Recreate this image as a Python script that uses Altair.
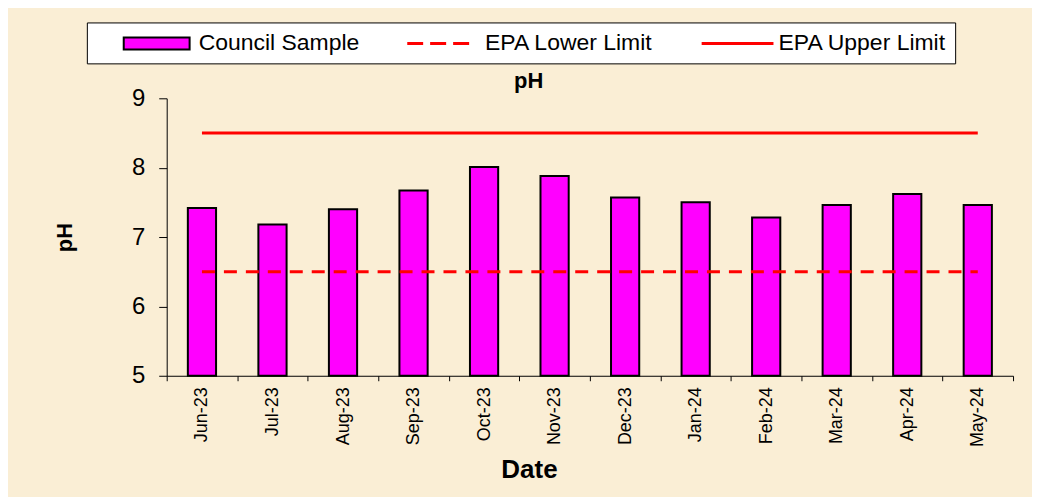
import altair as alt
import pandas as pd

months = ["Jun-23", "Jul-23", "Aug-23", "Sep-23", "Oct-23", "Nov-23",
          "Dec-23", "Jan-24", "Feb-24", "Mar-24", "Apr-24", "May-24"]
ph_values = [7.42, 7.18, 7.40, 7.67, 8.01, 7.88, 7.57, 7.50, 7.28, 7.46, 7.62, 7.46]
lower_limit = [6.5] * 12
upper_limit = [8.5] * 12
series_names = ["Council Sample", "EPA Lower Limit", "EPA Upper Limit"]

FONT = "Liberation Sans"
BG = "#FAEED5"

df = pd.DataFrame({"Date": months, "pH": ph_values,
                   "lower": lower_limit, "upper": upper_limit})
legend_df = pd.DataFrame({"series": series_names})

x_axis = alt.Axis(
    title="Date", labelAngle=-90, labelFontSize=18, labelFont=FONT,
    labelColor="black", labelPadding=6, tickBand="extent", tickSize=5,
    tickColor="black", domainColor="black", titleFont=FONT, titleFontSize=26,
    titleFontWeight="bold", titleColor="black", titleX=363, titleY=102,
    titleAlign="center", titleBaseline="alphabetic", labelLimit=200,
)
x_scale = alt.Scale(paddingInner=0, paddingOuter=0)

y_scale = alt.Scale(domain=[5, 9], nice=False, zero=False)
y_axis = alt.Axis(
    title="pH", values=[5, 6, 7, 8, 9], format="d", grid=False, labelFontSize=24,
    labelFont=FONT, labelColor="black", labelPadding=14, tickSize=8,
    tickColor="black", domainColor="black", titleFont=FONT, titleFontSize=22,
    titleFontWeight="bold", titleColor="black", titleX=-90, titleY=139,
    titleAngle=-90, titleAlign="center", titleBaseline="bottom",
)


def xenc():
    return alt.X("Date:N", sort=months, scale=x_scale, axis=x_axis)


bars = alt.Chart(df).mark_bar(
    color="#FF00FF", stroke="black", strokeWidth=2,
    width=alt.RelativeBandSize(0.4),
).encode(x=xenc(), y=alt.Y("pH:Q", scale=y_scale, axis=y_axis), y2=alt.datum(5))

lower = alt.Chart(df).mark_line(
    color="#FF0000", strokeWidth=3, strokeDash=[13, 9]
).encode(x=xenc(), y=alt.Y("lower:Q", scale=y_scale, axis=y_axis))

upper = alt.Chart(df).mark_line(
    color="#FF0000", strokeWidth=3
).encode(x=xenc(), y=alt.Y("upper:Q", scale=y_scale, axis=y_axis))

# legend symbol shapes (unit = half the symbol slot), drawn to the right of the slot
rect_path = "M1.33,-0.5H6.83V0.5H1.33Z"
dash_path = ("M1.17,-0.04H2.33V0.04H1.17Z "
             "M3.08,-0.04H4.25V0.04H3.08Z "
             "M5.0,-0.04H6.17V0.04H5.0Z")
solid_path = "M1.25,-0.04H7.08V0.04H1.25Z"

legend = alt.Legend(
    title=None, orient="none", legendX=-80, legendY=-76, direction="horizontal",
    columns=3, fillColor="white", strokeColor="black", padding=8,
    labelFont=FONT, labelFontSize=23, labelColor="black", labelOffset=78,
    labelLimit=400, columnPadding=21, symbolSize=576, symbolStrokeWidth=2,
    symbolOpacity=1,
)

legend_layer = alt.Chart(legend_df).mark_point(filled=True, opacity=0).encode(
    color=alt.Color("series:N", scale=alt.Scale(domain=series_names,
                    range=["#FF00FF", "#FF0000", "#FF0000"]), legend=legend),
    shape=alt.Shape("series:N", scale=alt.Scale(domain=series_names,
                    range=[rect_path, dash_path, solid_path]), legend=legend),
    stroke=alt.Stroke("series:N", scale=alt.Scale(domain=series_names,
                      range=["black", "#FF0000", "#FF0000"]), legend=legend),
)

chart = alt.layer(bars, lower, upper, legend_layer).properties(
    width=848, height=278,
    title=alt.TitleParams("pH", anchor="start", frame="group", dx=348, dy=97,
                          fontSize=22, fontWeight="bold", font=FONT,
                          color="black", offset=9, baseline="alphabetic"),
    autosize=alt.AutoSizeParams(type="none"),
    padding={"left": 159, "top": 90, "right": 19, "bottom": 121},
    background=BG,
).configure_view(stroke=None)

chart.save("out.html", embed_options={"renderer": "svg", "actions": False})
